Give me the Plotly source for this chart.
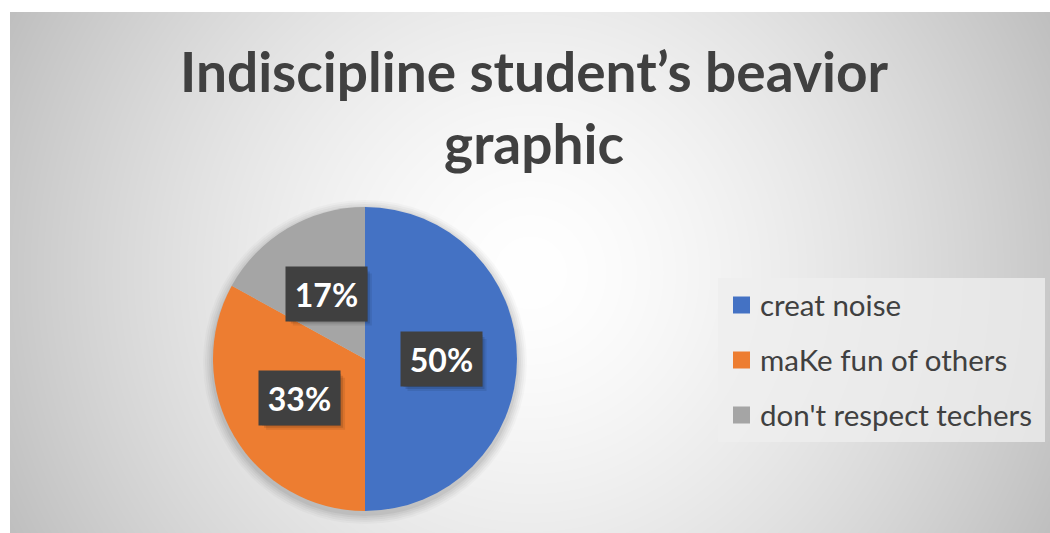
import base64, struct, zlib
import numpy as np
import plotly.graph_objects as go

# ---- data ----
categories = ["creat noise", "maKe fun of others", "don't respect techers"]
values = [50, 33, 17]
pct_labels = ["50%", "33%", "17%"]
colors = ["#4472C4", "#ED7D31", "#A5A5A5"]
title_text = "Indiscipline student\u2019s beavior<br>graphic"

W, H = 1050, 533

# ---- radial gradient background as PNG ----
bx0, by0, bx1, by1 = 10, 12, 1050, 533
bw, bh = bx1 - bx0, by1 - by0
yy, xx = np.mgrid[0:bh, 0:bw]
cxg, cyg = bw / 2.0, bh / 2.0
r = np.sqrt((xx - cxg) ** 2 + (yy - cyg) ** 2)
rmax = np.sqrt(cxg ** 2 + cyg ** 2)
v = 255 - 64 * (r / rmax) ** 1.5
img = np.clip(v, 0, 255).astype(np.uint8)
rgb = np.stack([img, img, img], axis=-1)
raw = b"".join(b"\x00" + rgb[i].tobytes() for i in range(bh))

def chunk(t, d):
    c = struct.pack(">I", len(d)) + t + d
    return c + struct.pack(">I", zlib.crc32(t + d) & 0xffffffff)

png = b"\x89PNG\r\n\x1a\n" + chunk(b"IHDR", struct.pack(">IIBBBBB", bw, bh, 8, 2, 0, 0, 0)) \
      + chunk(b"IDAT", zlib.compress(raw, 9)) + chunk(b"IEND", b"")
uri = "data:image/png;base64," + base64.b64encode(png).decode()

# ---- pie geometry ----
pcx, pcy, R = 365, 359, 152
dom_x = [(pcx - R) / W, (pcx + R) / W]
dom_y = [1 - (pcy + R) / H, 1 - (pcy - R) / H]

fig = go.Figure()
fig.add_trace(go.Pie(
    labels=categories, values=values, sort=False, direction="clockwise", rotation=0,
    marker=dict(colors=colors, line=dict(width=0)),
    textinfo="none", hoverinfo="label+percent", showlegend=False,
    domain=dict(x=dom_x, y=dom_y),
))

shapes = []
# soft shadow around pie
for k, a in [(10, 0.025), (8, 0.03), (6, 0.035), (4, 0.04), (2, 0.05)]:
    rr = R + k
    shapes.append(dict(type="circle", xref="paper", yref="paper", layer="below",
                       x0=(pcx - rr) / W, x1=(pcx + rr) / W,
                       y0=1 - (pcy + 3 + rr) / H, y1=1 - (pcy + 3 - rr) / H,
                       fillcolor=f"rgba(0,0,0,{a})", line=dict(width=0)))

# manual legend
lx0, ly0, lx1, ly1 = 718, 278, 1045, 442
shapes.append(dict(type="rect", xref="paper", yref="paper", layer="below",
                   x0=lx0 / W, x1=lx1 / W, y0=1 - ly1 / H, y1=1 - ly0 / H,
                   fillcolor="rgba(238,238,238,0.77)", line=dict(width=0)))
annotations = []
row_y0, row_gap, sq = 305, 55, 17
for i, (cat, col) in enumerate(zip(categories, colors)):
    yc = row_y0 + i * row_gap
    shapes.append(dict(type="rect", xref="paper", yref="paper",
                       x0=733 / W, x1=(733 + sq) / W,
                       y0=1 - (yc + sq / 2) / H, y1=1 - (yc - sq / 2) / H,
                       fillcolor=col, line=dict(width=0)))
    annotations.append(dict(xref="paper", yref="paper", x=758 / W, y=1 - (yc - 1) / H,
                            xanchor="left", yanchor="middle", showarrow=False,
                            text=cat, font=dict(family="Lato", size=29.5, color="#404040")))

# data labels from values
bw_l, bh_l = 79, 52
total = sum(values)
cum = 0
for val, lab in zip(values, pct_labels):
    mid = (cum + val / 2) / total * 2 * np.pi
    cum += val
    px = pcx + 0.5 * R * np.sin(mid)
    py = pcy - 0.5 * R * np.cos(mid)
    for dx, dy, a in [(6, 6, 0.08), (4, 4, 0.12), (2, 2, 0.15)]:
        shapes.append(dict(type="rect", xref="paper", yref="paper", layer="above",
                           x0=(px - bw_l / 2 + dx) / W, x1=(px + bw_l / 2 + dx) / W,
                           y0=1 - (py + bh_l / 2 + dy) / H, y1=1 - (py - bh_l / 2 + dy) / H,
                           fillcolor=f"rgba(0,0,0,{a})", line=dict(width=0)))
    annotations.append(dict(xref="paper", yref="paper", x=px / W, y=1 - py / H,
                            xanchor="center", yanchor="middle", showarrow=False,
                            text=f"<b>{lab}</b>", width=bw_l, height=bh_l, bgcolor="#404040",
                            font=dict(family="Lato", size=32, color="white")))

# title
annotations.append(dict(xref="paper", yref="paper", x=534 / W, y=1 - 36 / H,
                        xanchor="center", yanchor="top", showarrow=False,
                        text=f"<b>{title_text}</b>",
                        font=dict(family="Lato", size=55, color="#404040")))

fig.update_layout(
    width=W, height=H, margin=dict(l=0, r=0, t=0, b=0),
    paper_bgcolor="white", plot_bgcolor="white",
    images=[dict(source=uri, xref="paper", yref="paper", x=bx0 / W, y=1 - by0 / H,
                 sizex=bw / W, sizey=bh / H, xanchor="left", yanchor="top",
                 sizing="stretch", layer="below")],
    shapes=shapes, annotations=annotations,
)
fig.write_html("out.html")
